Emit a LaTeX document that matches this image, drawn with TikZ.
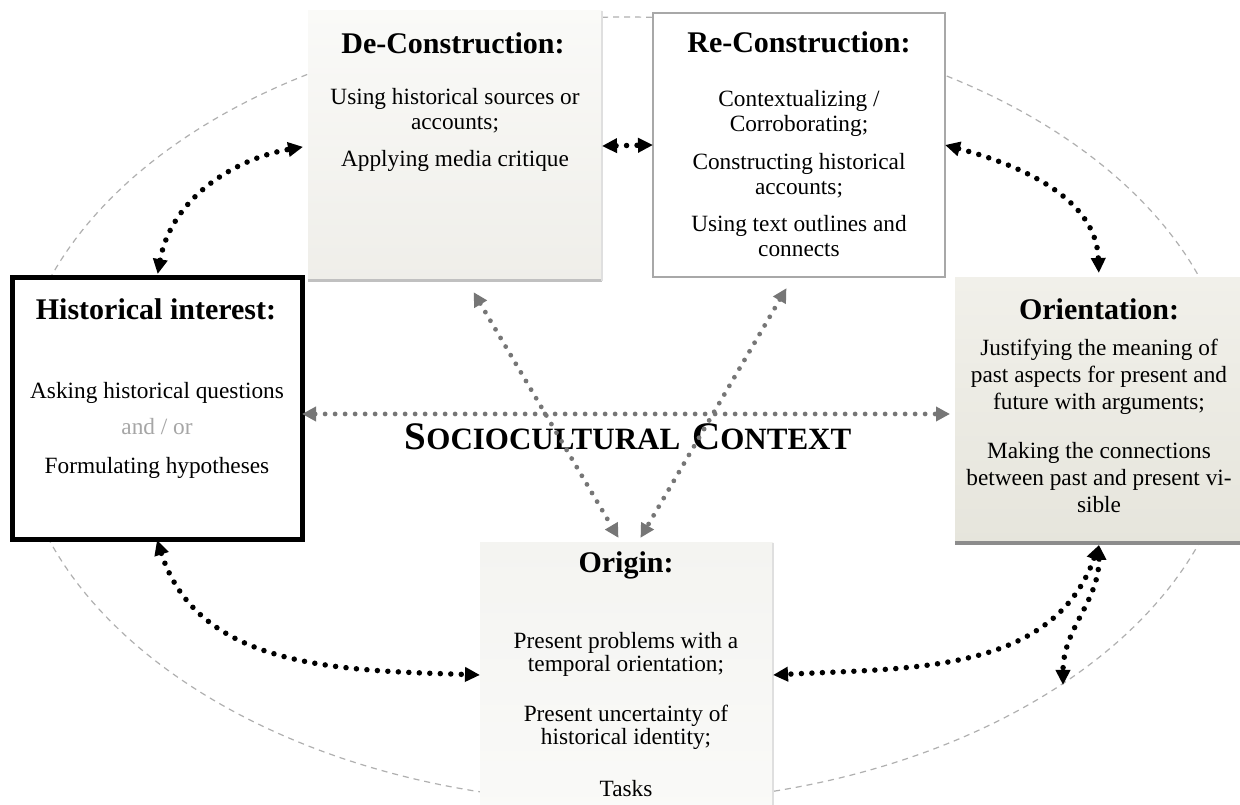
\documentclass[tikz,border=0pt]{standalone}
\usepackage{fontspec}
\setmainfont{Liberation Serif}
\usetikzlibrary{arrows.meta,positioning}

\definecolor{rimgray}{HTML}{B0B0B0}
\definecolor{dotgray}{HTML}{767676}
\definecolor{recgray}{HTML}{A8A8A8}
\definecolor{andgray}{HTML}{A6A6A6}
\definecolor{shadowgray}{HTML}{C0C0C0}
\definecolor{bandgray}{HTML}{8C8C8C}
\definecolor{decTop}{HTML}{FAFAF8}
\definecolor{decBot}{HTML}{EFEEE9}
\definecolor{oriTop}{HTML}{F1F0EA}
\definecolor{oriBot}{HTML}{E6E5DC}
\definecolor{orgTop}{HTML}{F4F4F1}
\definecolor{orgBot}{HTML}{FAFAF8}

% fake small caps for the centre label
\newcommand{\bigsc}[1]{{\fontsize{39}{39}\selectfont #1}}
\newcommand{\smallsc}[1]{{\fontsize{31}{39}\selectfont #1}}

\begin{document}
\begin{tikzpicture}[x=1pt,y=1pt,
  box/.style={inner sep=0pt,outer sep=0pt},
  head/.style={font=\fontsize{30}{32}\selectfont\bfseries,anchor=base},
  txt/.style={font=\fontsize{23.3}{25}\selectfont,align=center,anchor=north,inner sep=0pt},
  link/.style={{Triangle[length=15pt,width=14pt]}-{Triangle[length=15pt,width=14pt]},
    line width=5.5pt,line cap=round,dash pattern=on 0pt off 10.5pt},
  glink/.style={dotgray,{Triangle[length=14pt,width=14pt]}-{Triangle[length=14pt,width=14pt]},
    line width=4.8pt,line cap=round,dash pattern=on 0pt off 10pt}]

  \useasboundingbox (0,0) rectangle (1240,805);
  \fill[white] (0,0) rectangle (1240,805);

  % dashed cycle behind everything
  \draw[rimgray,line width=1.2pt,dash pattern=on 6pt off 5pt]
    (625,395) ellipse [x radius=610pt,y radius=393pt];

  % the five boxes
  \node[box,minimum width=294pt,minimum height=270pt,top color=decTop,bottom color=decBot] (dec) at (455,659) {};
  \draw[line width=3pt,shadowgray] (dec.south west) -- (dec.south east);
  \draw[line width=1.5pt,gray!25] (dec.south east) -- (dec.north east);

  \node[box,draw=recgray,line width=2.5pt,fill=white,minimum width=292pt,minimum height=264pt] (rec) at (799,660) {};

  \node[box,draw=black,line width=5pt,fill=white,minimum width=290pt,minimum height=262pt] (hist) at (157,396) {};

  \node[box,minimum width=288pt,minimum height=267pt,top color=oriTop,bottom color=oriBot] (ori) at (1099,393.5) {};
  \draw[line width=4pt,bandgray] ([yshift=2pt]ori.south west) -- ([yshift=2pt]ori.south east);

  \node[box,minimum width=293pt,minimum height=277pt,top color=orgTop,bottom color=orgBot] (org) at (626.5,123.5) {};
  \draw[line width=1.5pt,gray!25] (org.north east) -- (org.south east);

  % headings and texts
  \node[head] (decT) at (453,751) {De-Construction:};
  \node[txt] (decB) at (455,717) {Using historical sources or\\accounts;\\[12pt]Applying media critique};

  \node[head] (recT) at (799,752) {Re-Construction:};
  \node[txt] (recB) at (799,715) {Contextualizing /\\Corroborating;\\[13pt]Constructing historical\\accounts;\\[12pt]Using text outlines and\\connects};

  \node[head] (histT) at (156,485) {Historical interest:};
  \node[txt] (histB) at (157,423) {Asking historical questions\\[11pt]\textcolor{andgray}{and / or}\\[14pt]Formulating hypotheses};

  \node[head] (oriT) at (1099,485) {Orientation:};
  \node[txt,font=\fontsize{23.3}{27}\selectfont] (oriB) at (1099,466) {Justifying the meaning of\\past aspects for present and\\future with arguments;\\[22pt]Making the connections\\between past and present vi-\\sible};

  \node[head] (orgT) at (626,232) {Origin:};
  \node[txt,font=\fontsize{23.3}{23.5}\selectfont] (orgB) at (626,173) {Present problems with a\\temporal orientation;\\[26pt]Present uncertainty of\\historical identity;\\[28pt]Tasks};

  \node[font=\bfseries,anchor=base] (ctx) at (628,355)
    {\bigsc{S}\smallsc{OCIOCULTURAL}\hspace{12pt}\bigsc{C}\smallsc{ONTEXT}};

  % black links around the cycle
  \coordinate (rim) at (1063,120);
  \draw[link,shorten <=4pt,shorten >=5pt] (hist.north) to[out=80,in=190] (dec.west);
  \draw[link] (dec.east) -- (rec.west);
  \draw[link,shorten >=5pt] (rec.east) to[out=-15,in=92] (ori.north);
  \draw[link] (hist.south) to[out=-72,in=178] ([yshift=6.5pt]org.west);
  \draw[link] (ori.south) to[out=-110,in=3] ([yshift=6.5pt]org.east);
  \draw[link] (ori.south) to[out=-90,in=90] (rim);

  % grey links through the context
  \draw[glink,shorten >=5pt] ([yshift=-5pt]hist.east) -- ([yshift=-2.5pt]ori.west);
  \draw[glink,shorten <=13pt,shorten >=6pt] ([xshift=12pt]dec.south) -- ([xshift=-5pt]org.north);
  \draw[glink,shorten <=13pt,shorten >=6pt] ([xshift=-6pt]rec.south) -- ([xshift=11pt]org.north);
\end{tikzpicture}
\end{document}
